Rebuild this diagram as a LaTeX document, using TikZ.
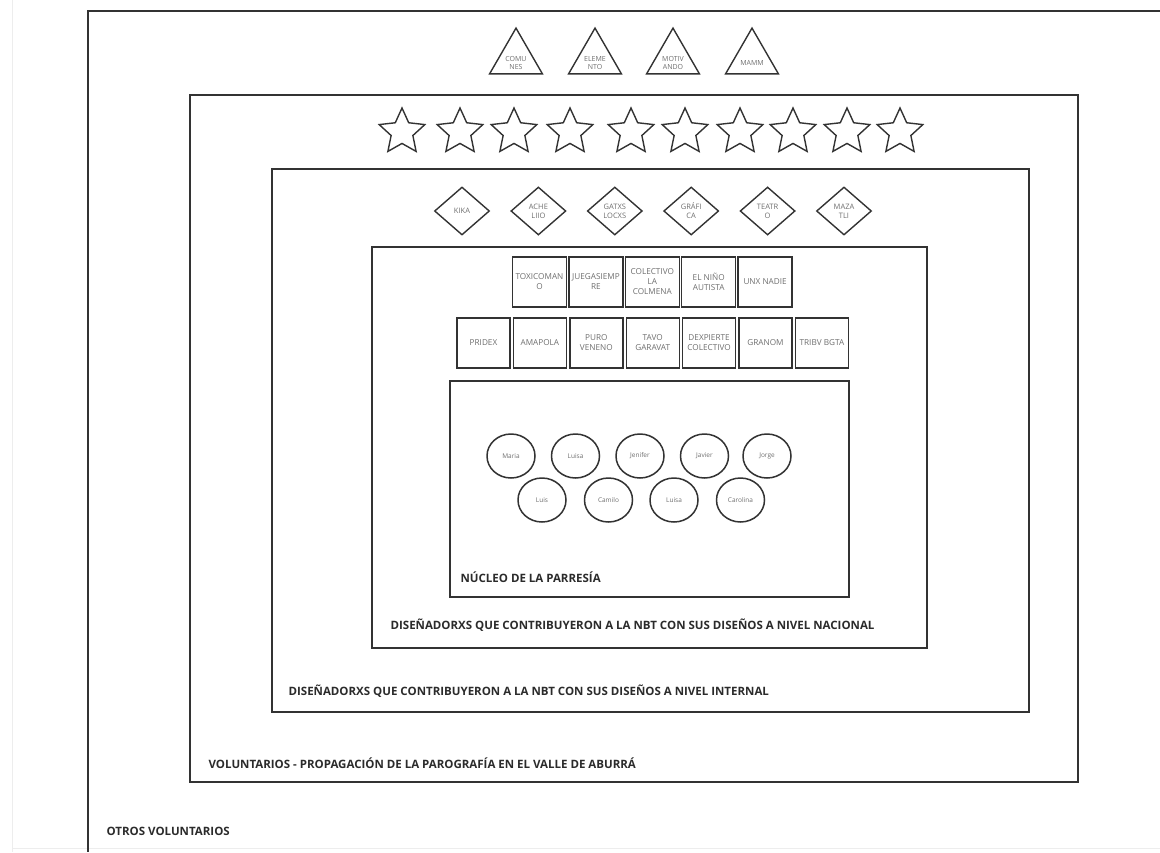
\documentclass[tikz,border=0pt]{standalone}
\usepackage{fontspec}
\setmainfont{Open Sans}
\usepackage{tikz}
\usetikzlibrary{positioning,shapes.geometric}
\usepackage{xcolor}
\definecolor{linea}{HTML}{333333}
\definecolor{texto}{HTML}{2B2B2B}
\definecolor{gris}{HTML}{6E6E6E}
\newcommand{\bajo}[1]{\raisebox{-5pt}[\height][\depth]{\begin{tabular}{@{}c@{}}#1\end{tabular}}}

\begin{document}
\begin{tikzpicture}[%
    x=1pt,
    y=-1pt,
    line width=1.2pt,
    draw=linea,
    tri/.style={%
      regular polygon,
      regular polygon sides=3,
      minimum size=61pt,
      inner sep=-8pt,
      line width=1.4pt,
      text=gris,
      font=\fontsize{7}{8}\selectfont,
      draw=linea
    },
    estrella/.style={%
      star,
      star points=5,
      star point ratio=2.1,
      minimum size=48pt,
      inner sep=0pt,
      line width=1.4pt,
      draw=linea
    },
    rombo/.style={%
      diamond,
      minimum width=55pt,
      minimum height=48pt,
      inner sep=0.5pt,
      line width=1.4pt,
      align=center,
      text=gris,
      font=\fontsize{7.5}{9}\selectfont,
      draw=linea
    },
    caja/.style={%
      rectangle,
      minimum width=54pt,
      minimum height=50pt,
      inner sep=0.5pt,
      line width=1.4pt,
      align=center,
      text=gris,
      font=\fontsize{8.2}{10}\selectfont,
      draw=linea
    },
    persona/.style={%
      ellipse,
      minimum width=48pt,
      minimum height=44pt,
      inner sep=0pt,
      line width=1.5pt,
      text=gris,
      font=\fontsize{6.5}{7.5}\selectfont,
      draw=linea
    },
    etiqueta/.style={%
      anchor=west,
      inner sep=0pt,
      text=texto,
      font=\fontsize{11.5}{13}\selectfont\bfseries
    }
  ]
    \useasboundingbox (0,0) rectangle (1160,852);

    % marcos
    \draw[black!7, line width=0.8pt] (12,0) -- (12,852);
    \draw[black!7, line width=0.8pt] (12,848) -- (1160,848);
    \draw (1160,11) -- (88,11) -- (88,852);
    \draw (190,95) rectangle (1078,782);
    \draw (272,169) rectangle (1029,712);
    \draw (372,247) rectangle (927,648);
    \draw (450,381) rectangle (849,597);

    % triangulos
    \node[tri] (t1) at (516,58.6) {\bajo{COMU\\NES}};
    \node[tri] (t2) at (595,58.6) {\bajo{ELEME\\NTO}};
    \node[tri] (t3) at (673,58.6) {\bajo{MOTIV\\ANDO}};
    \node[tri] (t4) at (752,58.6) {\bajo{MAMM}};

    % estrellas
    \node[estrella] (s1) at (402,132) {};
    \node[estrella] (s2) at (460,132) {};
    \node[estrella] (s3) at (514,132) {};
    \node[estrella] (s4) at (570,132) {};
    \node[estrella] (s5) at (631,132) {};
    \node[estrella] (s6) at (685,132) {};
    \node[estrella] (s7) at (740,132) {};
    \node[estrella] (s8) at (793,132) {};
    \node[estrella] (s9) at (847,132) {};
    \node[estrella] (s10) at (900,132) {};

    % rombos
    \node[rombo] (kika) at (462,211)                 {KIKA};
    \node[rombo] (ache) [right=20pt of kika]         {ACHE\\LIIO};
    \node[rombo] (gatxs) [right=20pt of ache]        {GATXS\\LOCXS};
    \node[rombo] (grafica) [right=20pt of gatxs]     {GRÁFI\\CA};
    \node[rombo] (teatro) [right=20pt of grafica]    {TEATR\\O};
    \node[rombo] (mazatli) [right=20pt of teatro]    {MAZA\\TLI};

    % nivel nacional
    \node[caja] (toxico) at (539.5,282)              {TOXICOMAN\\O};
    \node[caja] (juega) [right=1pt of toxico]        {JUEGASIEMP\\RE};
    \node[caja] (colmena) [right=1pt of juega]       {COLECTIVO\\LA\\COLMENA};
    \node[caja] (nino) [right=1pt of colmena]        {EL NIÑO\\AUTISTA};
    \node[caja] (unx) [right=1pt of nino]            {UNX NADIE};

    \node[caja, minimum width=53pt] (pridex) at (483.5,343)                {PRIDEX};
    \node[caja, minimum width=53pt] (amapola) [right=2pt of pridex]        {AMAPOLA};
    \node[caja, minimum width=53pt] (veneno) [right=2pt of amapola]        {PURO\\VENENO};
    \node[caja, minimum width=53pt] (tavo) [right=2pt of veneno]           {TAVO\\GARAVAT};
    \node[caja, minimum width=53pt] (dexpierte) [right=2pt of tavo]        {DEXPIERTE\\COLECTIVO};
    \node[caja, minimum width=53pt] (granom) [right=2pt of dexpierte]      {GRANOM};
    \node[caja, minimum width=53pt] (tribv) [right=2pt of granom]          {TRIBV BGTA};

    % nucleo
    \node[persona] (maria) at (511,456)              {Maria};
    \node[persona] (luisa) [right=15pt of maria]     {Luisa};
    \node[persona] (jenifer) [right=15pt of luisa]   {Jenifer};
    \node[persona] (javier) [right=15pt of jenifer]  {Javier};
    \node[persona] (jorge) [right=13pt of javier]    {Jorge};
    \node[persona] (luis) at (542,500)               {Luis};
    \node[persona] (camilo) [right=17pt of luis]     {Camilo};
    \node[persona] (luisa2) [right=16pt of camilo]   {Luisa};
    \node[persona] (carolina) [right=17pt of luisa2] {Carolina};

    % etiquetas
    \node[etiqueta] (nucleo) at (460,577)      {NÚCLEO DE LA PARRESÍA};
    \node[etiqueta] (nacional) at (390,625)    {DISEÑADORXS QUE CONTRIBUYERON A LA NBT CON SUS DISEÑOS A NIVEL NACIONAL};
    \node[etiqueta] (internal) at (288,691)    {DISEÑADORXS QUE CONTRIBUYERON A LA NBT CON SUS DISEÑOS A NIVEL INTERNAL};
    \node[etiqueta] (voluntarios) at (208,763) {VOLUNTARIOS - PROPAGACIÓN DE LA PAROGRAFÍA EN EL VALLE DE ABURRÁ};
    \node[etiqueta] (otros) at (106,831)       {OTROS VOLUNTARIOS};
  \end{tikzpicture}
\end{document}
